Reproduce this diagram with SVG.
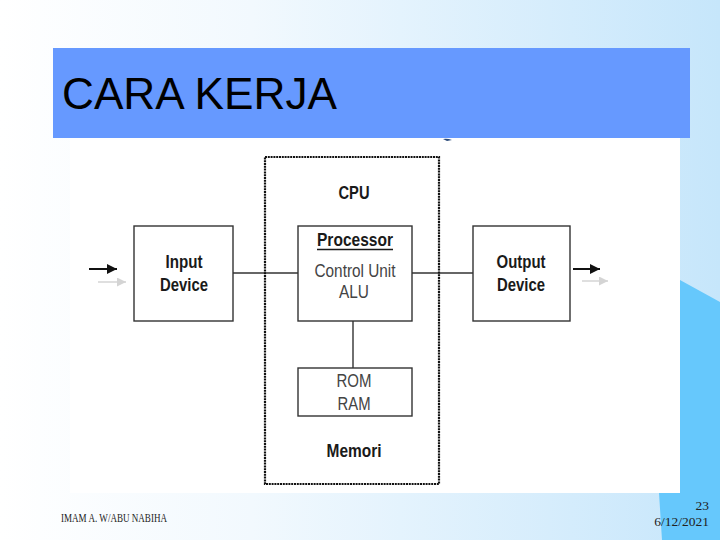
<svg xmlns="http://www.w3.org/2000/svg" width="720" height="540" viewBox="0 0 720 540">
<defs>
<linearGradient id="bg" x1="0" y1="0" x2="1" y2="0">
<stop offset="0" stop-color="#ffffff"/>
<stop offset="0.35" stop-color="#f2f9fe"/>
<stop offset="1" stop-color="#c6e6fb"/>
</linearGradient>
<marker id="ah" viewBox="0 0 10 10" refX="10" refY="5" markerWidth="10" markerHeight="10" markerUnits="userSpaceOnUse" orient="auto">
<path d="M0,0 L10,5 L0,10 Z" fill="#111"/>
</marker>
<marker id="ahg" viewBox="0 0 10 10" refX="10" refY="5" markerWidth="9" markerHeight="9" markerUnits="userSpaceOnUse" orient="auto">
<path d="M0,0 L10,5 L0,10 Z" fill="#d4d4d4"/>
</marker>
</defs>
<style>
.box{fill:none;stroke:#333;stroke-width:1.4}
.dash{fill:none;stroke:#111;stroke-width:2.2;stroke-dasharray:2 0.8}
.con{stroke:#333;stroke-width:1.4;fill:none}
.lb{font-family:"Liberation Sans",Arial,sans-serif;font-size:19px;font-weight:bold;fill:#1a1a1a;text-anchor:middle}
.lt{font-family:"Liberation Sans",Arial,sans-serif;font-size:18px;fill:#444;text-anchor:middle}
.ft{font-family:"Liberation Serif","Times New Roman",serif;fill:#222}
</style>
<rect x="0" y="0" width="720" height="540" fill="url(#bg)"/>
<polygon points="680,280 720,302 720,540 662,540 659,493 680,493" fill="#66c8fc"/>
<rect x="70" y="138" width="610" height="355" fill="#ffffff"/>
<rect x="53" y="48" width="637" height="90" fill="#6699ff"/>
<text x="62" y="109" font-family="'Liberation Sans',Arial,sans-serif" font-size="44" fill="#000" textLength="275" lengthAdjust="spacingAndGlyphs">CARA KERJA</text>
<path d="M443,139 Q447,138 452,140 L447,141 Z" fill="#2a4a7a"/>

<g id="connectors">
<line class="con" x1="233" y1="273" x2="298" y2="273"/>
<line class="con" x1="412" y1="273" x2="473" y2="273"/>
<line class="con" x1="353" y1="321" x2="353" y2="368"/>
<line x1="89" y1="269" x2="117" y2="269" stroke="#111" stroke-width="2" marker-end="url(#ah)"/>
<line x1="98" y1="282" x2="126" y2="282" stroke="#d4d4d4" stroke-width="1.5" marker-end="url(#ahg)"/>
<line x1="573" y1="269" x2="600" y2="269" stroke="#111" stroke-width="2" marker-end="url(#ah)"/>
<line x1="582" y1="281" x2="608" y2="281" stroke="#d4d4d4" stroke-width="1.5" marker-end="url(#ahg)"/>
</g>

<g id="cpu">
<rect class="dash" x="265" y="157" width="174" height="327"/>
<text class="lb" x="354" y="199" textLength="31" lengthAdjust="spacingAndGlyphs">CPU</text>
<text class="lb" x="354" y="457" textLength="55" lengthAdjust="spacingAndGlyphs">Memori</text>
</g>

<g id="input">
<rect class="box" x="134" y="226" width="99" height="95"/>
<text class="lb" x="184" y="268" textLength="37" lengthAdjust="spacingAndGlyphs">Input</text>
<text class="lb" x="184" y="291" textLength="48" lengthAdjust="spacingAndGlyphs">Device</text>
</g>

<g id="processor">
<rect class="box" x="298" y="226" width="114" height="95"/>
<text class="lb" x="355" y="246" textLength="76" lengthAdjust="spacingAndGlyphs">Processor</text>
<line x1="317" y1="249.5" x2="393" y2="249.5" stroke="#1a1a1a" stroke-width="1.5"/>
<text class="lt" x="355" y="277" textLength="81" lengthAdjust="spacingAndGlyphs">Control Unit</text>
<text class="lt" x="354" y="298" textLength="30" lengthAdjust="spacingAndGlyphs">ALU</text>
</g>

<g id="output">
<rect class="box" x="473" y="226" width="97" height="95"/>
<text class="lb" x="521" y="268" textLength="49" lengthAdjust="spacingAndGlyphs">Output</text>
<text class="lb" x="521" y="291" textLength="48" lengthAdjust="spacingAndGlyphs">Device</text>
</g>

<g id="memory">
<rect class="box" x="298" y="368" width="114" height="48"/>
<text class="lt" x="354" y="387" textLength="35" lengthAdjust="spacingAndGlyphs">ROM</text>
<text class="lt" x="354" y="410" textLength="33" lengthAdjust="spacingAndGlyphs">RAM</text>
</g>

<text class="ft" x="61" y="522" font-size="11.5" textLength="106" lengthAdjust="spacingAndGlyphs">IMAM A. W/ABU NABIHA</text>
<text class="ft" x="709" y="510" font-size="13.5" text-anchor="end">23</text>
<text class="ft" x="709" y="526" font-size="13.5" text-anchor="end">6/12/2021</text>
</svg>
